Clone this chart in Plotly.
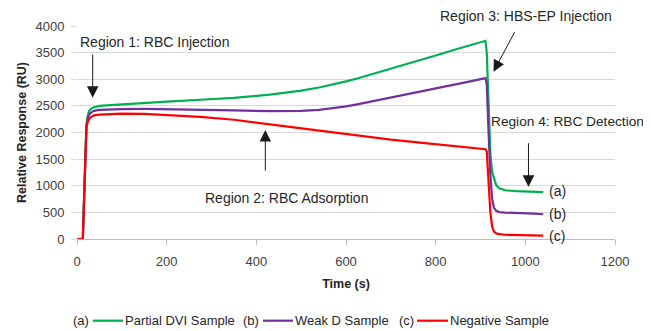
import plotly.graph_objects as go

# ---- data ----
time_s = [0, 13, 15, 17, 19, 21, 24, 28, 35, 40, 50, 75, 100, 150, 200, 275, 350, 430,
          500, 540, 570, 600, 625, 650, 700, 765, 800, 840, 880, 911, 914, 918, 922,
          926, 930, 935, 942, 955, 980, 1000, 1003, 1006, 1020, 1040]

partial_dvi = [0, 0, 550, 1100, 1650, 2150, 2320, 2420, 2465, 2480, 2500, 2515, 2530, 2555,
               2580, 2615, 2650, 2710, 2785, 2845, 2900, 2960, 3015, 3075, 3195, 3360,
               3447, 3548, 3648, 3722, 3500, 2500, 1600, 1250, 1120, 1010, 950, 915, 900,
               893, 905, 893, 885, 880]

weak_d = [0, 0, 550, 1100, 1650, 2110, 2260, 2350, 2395, 2410, 2425, 2435, 2440, 2442,
          2438, 2425, 2415, 2400, 2405, 2425, 2455, 2490, 2528, 2570, 2660, 2770,
          2830, 2900, 2965, 3022, 2900, 2000, 1200, 750, 590, 530, 505, 495, 490,
          485, 495, 483, 475, 465]

negative = [0, 0, 550, 1100, 1640, 2080, 2200, 2265, 2310, 2325, 2335, 2350, 2355, 2350,
            2330, 2295, 2240, 2155, 2075, 2030, 1995, 1960, 1935, 1912, 1865, 1810,
            1780, 1746, 1715, 1685, 1640, 1100, 500, 230, 140, 105, 90, 80, 75, 72,
            82, 70, 67, 62]

series_names = ["Partial DVI Sample", "Weak D Sample", "Negative Sample"]
series_tags = ["(a)", "(b)", "(c)"]
series_colors = ["#00B050", "#7030A0", "#FF0000"]

x_ticks = [0, 200, 400, 600, 800, 1000, 1200]
y_ticks = [0, 500, 1000, 1500, 2000, 2500, 3000, 3500, 4000]

FONT = "Liberation Sans, Arial, sans-serif"
TXT = "#262626"

# the page body adds an 8px margin, so the figure is drawn 8px smaller
OFF = 8
W, H = 651 - OFF, 331 - OFF
PLOT_L, PLOT_R, PLOT_T, PLOT_B = 77, 615, 26, 239   # plot box in window pixels
ML, MT = PLOT_L - OFF, PLOT_T - OFF
MR, MB = W - (PLOT_R - OFF), H - (PLOT_B - OFF)
PW, PH = PLOT_R - PLOT_L, PLOT_B - PLOT_T


def px_x(p):
    return (p - PLOT_L) / PW


def px_y(p):
    return (PLOT_B - p) / PH


fig = go.Figure()
for name, vals, col in zip(series_names, [partial_dvi, weak_d, negative], series_colors):
    fig.add_trace(go.Scatter(x=time_s, y=vals, mode="lines", name=name,
                             line=dict(color=col, width=2.2)))

fig.update_layout(
    width=W, height=H, autosize=False,
    margin=dict(l=ML, r=MR, t=MT, b=MB, autoexpand=False),
    plot_bgcolor="white", paper_bgcolor="white",
    font=dict(family=FONT, color=TXT),
    showlegend=False,
)

fig.update_xaxes(range=[0, 1200], tickvals=x_ticks, showgrid=False,
                 showline=True, linecolor="#BFBFBF", linewidth=1,
                 ticks="outside", ticklen=5, tickcolor="#BFBFBF",
                 tickfont=dict(size=13, color="#404040"), ticklabelstandoff=5,
                 zeroline=False,
                 title=dict(text="<b>Time (s)</b>", font=dict(size=12.5, color=TXT),
                            standoff=11))
fig.update_yaxes(range=[0, 4000], tickvals=y_ticks, showgrid=True,
                 gridcolor="#D9D9D9", gridwidth=1, showline=False,
                 ticks="outside", ticklen=5, tickcolor="#D9D9D9",
                 tickfont=dict(size=13, color="#404040"), ticklabelstandoff=4,
                 zeroline=False,
                 title=dict(text="<b>Relative Response (RU)</b>",
                            font=dict(size=12.5, color=TXT), standoff=6))

# arrows (tip -> tail in data coordinates)
arrows = [
    (35, 2653, 35, 3490),
    (420, 2047, 420, 1258),
    (929, 3142, 978, 3912),
    (1007, 982, 1007, 1827),
]
for x, y, ax, ay in arrows:
    fig.add_annotation(x=x, y=y, ax=ax, ay=ay, xref="x", yref="y", axref="x", ayref="y",
                       text="", showarrow=True, arrowhead=2, arrowsize=2.3,
                       arrowwidth=1, arrowcolor="#1a1a1a")

# region labels (window-pixel positions of the text's left edge / vertical centre)
labels = [
    ("Region 1: RBC Injection", 80, 41.7, 14),
    ("Region 2: RBC Adsorption", 205, 198, 14),
    ("Region 3: HBS-EP Injection", 440, 16, 14),
    ("Region 4: RBC Detection", 491, 121.7, 13.7),
    ("(a)", 549, 190.7, 14),
    ("(b)", 549, 214, 14),
    ("(c)", 549, 236, 14),
]
for txt, x, y, sz in labels:
    fig.add_annotation(x=px_x(x - 2), y=px_y(y), xref="paper", yref="paper", text=txt,
                       showarrow=False, xanchor="left", yanchor="middle",
                       font=dict(size=sz, color=TXT, family=FONT))

# legend row: tag, line sample, name
leg_y = px_y(320.7)
leg_items = [(73, 93, 123, 125), (243, 263, 293, 295), (399, 417, 448, 450)]
for (tx, l0, l1, nx), tag, name, col in zip(leg_items, series_tags, series_names,
                                            series_colors):
    fig.add_annotation(x=px_x(tx - 2), y=leg_y, xref="paper", yref="paper", text=tag,
                       showarrow=False, xanchor="left", yanchor="middle",
                       font=dict(size=13, color=TXT, family=FONT))
    fig.add_shape(type="line", xref="paper", yref="paper", x0=px_x(l0), x1=px_x(l1),
                  y0=leg_y, y1=leg_y, line=dict(color=col, width=2.2))
    fig.add_annotation(x=px_x(nx - 2), y=leg_y, xref="paper", yref="paper", text=name,
                       showarrow=False, xanchor="left", yanchor="middle",
                       font=dict(size=13, color=TXT, family=FONT))

fig.write_html("out.html")
